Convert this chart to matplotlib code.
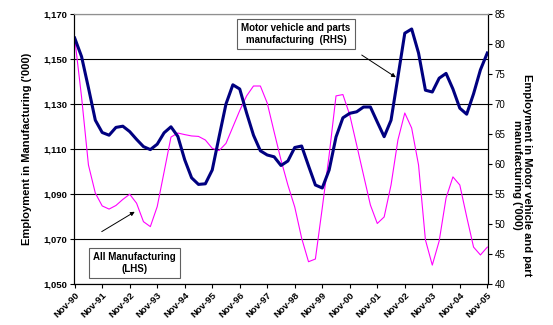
import matplotlib
matplotlib.use("Agg")
import matplotlib.pyplot as plt
from matplotlib.ticker import FuncFormatter

plt.rcParams['font.family'] = ['Liberation Sans', 'DejaVu Sans']

# quarterly data, Nov-90 .. Nov-05
tick_labels = ['Nov-90', 'Nov-91', 'Nov-92', 'Nov-93', 'Nov-94', 'Nov-95', 'Nov-96', 'Nov-97',
               'Nov-98', 'Nov-99', 'Nov-00', 'Nov-01', 'Nov-02', 'Nov-03', 'Nov-04', 'Nov-05']

# All manufacturing ('000), LHS
all_mfg = [1159.3, 1133.1, 1102.9, 1090.4, 1084.7, 1083.3, 1084.9, 1087.6, 1089.9, 1085.9,
           1077.7, 1075.5, 1084.4, 1099.8, 1115.3, 1117.1, 1116.4, 1115.8, 1115.6, 1114.0,
           1110.3, 1109.3, 1112.5, 1119.8, 1127.1, 1133.6, 1138.0, 1138.0, 1130.4, 1117.6,
           1105.1, 1094.0, 1084.2, 1070.4, 1059.9, 1061.1, 1083.8, 1107.3, 1133.6, 1134.2,
           1125.1, 1111.8, 1098.4, 1085.1, 1076.9, 1079.8, 1094.0, 1114.0, 1126.0, 1119.3,
           1102.9, 1069.6, 1058.4, 1069.1, 1088.2, 1097.6, 1094.0, 1079.9, 1066.4, 1062.9,
           1066.4]

# Motor vehicle and parts manufacturing ('000), RHS
motor = [81.0, 77.9, 72.7, 67.3, 65.25, 64.8, 66.1, 66.3, 65.4, 64.1,
         62.9, 62.4, 63.3, 65.2, 66.2, 64.6, 60.7, 57.7, 56.6, 56.7,
         59.0, 64.55, 70.0, 73.2, 72.5, 68.5, 64.8, 62.2, 61.5, 61.2,
         59.75, 60.5, 62.75, 63.0, 59.7, 56.5, 56.0, 59.0, 64.5, 67.7,
         68.45, 68.7, 69.5, 69.5, 67.0, 64.55, 67.3, 74.5, 81.8, 82.5,
         78.5, 72.3, 72.0, 74.3, 75.1, 72.5, 69.3, 68.3, 71.7, 75.7,
         78.5]

x = list(range(len(all_mfg)))

fig = plt.figure(figsize=(5.53, 3.25), dpi=100)
ax = fig.add_axes([74/553, 1 - 284/325, 414/553, 270/325])
ax2 = ax.twinx()

ax.plot(x, all_mfg, color='#FF00FF', lw=0.8)
ax2.plot(x, motor, color='#000080', lw=2.2)

ax.set_xlim(-0.1, 60.1)
ax.set_ylim(1050, 1170)
ax2.set_ylim(40, 85)
ax.set_yticks(range(1050, 1171, 20))
ax2.set_yticks(range(40, 86, 5))
ax.yaxis.set_major_formatter(FuncFormatter(lambda v, p: f"{int(v):,}"))
ax.set_xticks(range(0, 61, 4))
ax.set_xticklabels(tick_labels, rotation=45, ha='right', rotation_mode='anchor',
                   fontsize=6.8, fontweight='bold')

for a in (ax, ax2):
    a.tick_params(length=3, width=0.8, color='black', pad=2)
    for s in a.spines.values():
        s.set_linewidth(0.8)
    a.spines['top'].set_color('#909090')
ax.tick_params(axis='y', labelsize=6.8)
for t in ax.get_yticklabels():
    t.set_fontweight('bold')
ax2.tick_params(axis='y', labelsize=7)

ax.grid(axis='y', color='black', lw=0.8)
ax.set_axisbelow(True)

ax.set_ylabel("Employment in Manufacturing ('000)", fontsize=8, fontweight='bold', labelpad=8)
fig.text(522/553, 1 - 175/325, "Employment in Motor vehicle and part\nmanufacturing ('000)",
         rotation=270, ha='center', va='center', fontsize=8, fontweight='bold',
         linespacing=1.1)

box = dict(boxstyle='square,pad=0.45', fc='white', ec='#606060', lw=0.8)
ax.text(0.536, 0.925, "Motor vehicle and parts\nmanufacturing  (RHS)", transform=ax.transAxes,
        ha='center', va='center', fontsize=7, fontweight='bold', bbox=box, zorder=5)
ax.text(0.146, 0.0785, "All Manufacturing\n(LHS)", transform=ax.transAxes,
        ha='center', va='center', fontsize=7, fontweight='bold', bbox=box, zorder=5)

arrow = dict(arrowstyle='-|>', color='black', lw=0.7, mutation_scale=6, shrinkA=0, shrinkB=0)
ax2.annotate('', xy=(46.7, 74.45), xycoords='data', xytext=(0.695, 0.848),
             textcoords='axes fraction', arrowprops=arrow)
ax.annotate('', xy=(8.73, 1082.1), xycoords='data', xytext=(0.067, 0.194),
            textcoords='axes fraction', arrowprops=arrow)

fig.savefig('out.png', dpi=100)
